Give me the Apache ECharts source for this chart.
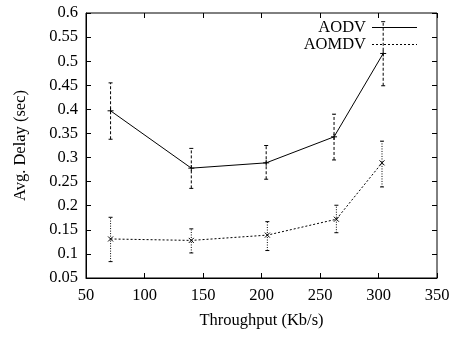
<!DOCTYPE html>
<html><head><meta charset="utf-8">
<script src="https://cdn.jsdelivr.net/npm/echarts@6/dist/echarts.min.js"></script>
<style>html,body{margin:0;padding:0;background:#fff}#c{width:454px;height:337px}</style>
</head><body><div id="c"></div>
<script>
const xAODV = [71, 140, 204, 262, 304];
const yAODV = [0.397, 0.278, 0.289, 0.343, 0.516];
const loAODV = [0.338, 0.236, 0.255, 0.295, 0.449];
const hiAODV = [0.455, 0.319, 0.325, 0.390, 0.582];
const xAOMDV = [71, 140, 205, 264, 303];
const yAOMDV = [0.131, 0.128, 0.139, 0.172, 0.289];
const loAOMDV = [0.084, 0.102, 0.107, 0.144, 0.239];
const hiAOMDV = [0.176, 0.152, 0.167, 0.201, 0.334];
const seriesNames = ['AODV', 'AOMDV'];
const xTitle = 'Throughput (Kb/s)';
const yTitle = 'Avg. Delay (sec)';

const FONT = 'Liberation Serif';
const FS = 16.5;

function errBar(dash) {
  return function (params, api) {
    const x = api.value(0), lo = api.value(1), hi = api.value(2);
    const a = api.coord([x, lo]), b = api.coord([x, hi]);
    const w = 2;
    const st = {stroke: '#000', lineWidth: 1};
    return {type: 'group', children: [
      {type: 'line', shape: {x1: a[0], y1: a[1], x2: b[0], y2: b[1]}, style: {stroke: '#000', lineWidth: 1, lineDash: dash}},
      {type: 'line', shape: {x1: a[0] - w, y1: a[1], x2: a[0] + w, y2: a[1]}, style: st},
      {type: 'line', shape: {x1: b[0] - w, y1: b[1], x2: b[0] + w, y2: b[1]}, style: st}
    ]};
  };
}

const zip2 = (xs, ys) => xs.map((x, i) => [x, ys[i]]);
const zip3 = (xs, l, h) => xs.map((x, i) => [x, l[i], h[i]]);

const baseX = {type: 'value', min: 50, max: 350, interval: 50};
const baseY = {type: 'value', min: 0.05, max: 0.6, interval: 0.05};
const tick = {show: true, inside: true, length: 5, lineStyle: {color: '#000', width: 1}};

const chart = echarts.init(document.getElementById('c'), null, {renderer: 'canvas'});
chart.setOption({
  animation: false,
  backgroundColor: '#fff',
  textStyle: {fontFamily: FONT},
  grid: {left: 86, right: 17, top: 13, bottom: 59, show: true, borderColor: '#000', borderWidth: 1, backgroundColor: 'transparent'},
  xAxis: [
    Object.assign({}, baseX, {
      position: 'bottom',
      name: xTitle, nameLocation: 'middle', nameGap: 34,
      nameTextStyle: {fontFamily: FONT, fontSize: FS, color: '#000'},
      axisLine: {show: true, onZero: false, lineStyle: {color: '#000', width: 1}},
      axisTick: tick,
      axisLabel: {fontFamily: FONT, fontSize: FS, color: '#000', margin: 9},
      splitLine: {show: false}
    }),
    Object.assign({}, baseX, {
      position: 'top',
      axisLine: {show: false}, axisTick: tick, axisLabel: {show: false}, splitLine: {show: false}
    })
  ],
  yAxis: [
    Object.assign({}, baseY, {
      position: 'left',
      name: yTitle, nameLocation: 'middle', nameGap: 57,
      nameTextStyle: {fontFamily: FONT, fontSize: FS, color: '#000'},
      axisLine: {show: true, onZero: false, lineStyle: {color: '#000', width: 1}},
      axisTick: tick,
      axisLabel: {fontFamily: FONT, fontSize: FS, color: '#000', margin: 8,
        formatter: v => String(+v.toFixed(2))},
      splitLine: {show: false}
    }),
    Object.assign({}, baseY, {
      position: 'right',
      axisLine: {show: false}, axisTick: tick, axisLabel: {show: false}, splitLine: {show: false}
    })
  ],
  series: [
    {
      name: seriesNames[0], type: 'line', data: zip2(xAODV, yAODV),
      symbol: 'path://M0,5L10,5M5,0L5,10', symbolSize: 6,
      itemStyle: {color: 'rgba(0,0,0,0)', borderColor: '#000', borderWidth: 1},
      lineStyle: {color: '#000', width: 1, type: 'solid'}, z: 3
    },
    {
      name: seriesNames[0] + ' err', type: 'custom', data: zip3(xAODV, loAODV, hiAODV),
      renderItem: errBar([3, 2]), z: 2
    },
    {
      name: seriesNames[1], type: 'line', data: zip2(xAOMDV, yAOMDV),
      symbol: 'path://M0,0L10,10M0,10L10,0', symbolSize: 5,
      itemStyle: {color: 'rgba(0,0,0,0)', borderColor: '#000', borderWidth: 1},
      lineStyle: {color: '#000', width: 1, type: [2, 2]}, z: 3
    },
    {
      name: seriesNames[1] + ' err', type: 'custom', data: zip3(xAOMDV, loAOMDV, hiAOMDV),
      renderItem: errBar([1, 1.5]), z: 2
    }
  ],
  graphic: [
    {type: 'text', right: 454 - 366, top: 19, style: {text: seriesNames[0], font: FS + 'px "' + FONT + '"', fill: '#000', textAlign: 'right'}},
    {type: 'line', shape: {x1: 372, y1: 27.5, x2: 417, y2: 27.5}, style: {stroke: '#000', lineWidth: 1}},
    {type: 'text', right: 454 - 366, top: 36, style: {text: seriesNames[1], font: FS + 'px "' + FONT + '"', fill: '#000', textAlign: 'right'}},
    {type: 'line', shape: {x1: 372, y1: 44.5, x2: 417, y2: 44.5}, style: {stroke: '#000', lineWidth: 1, lineDash: [2, 2]}}
  ]
});
</script></body></html>
